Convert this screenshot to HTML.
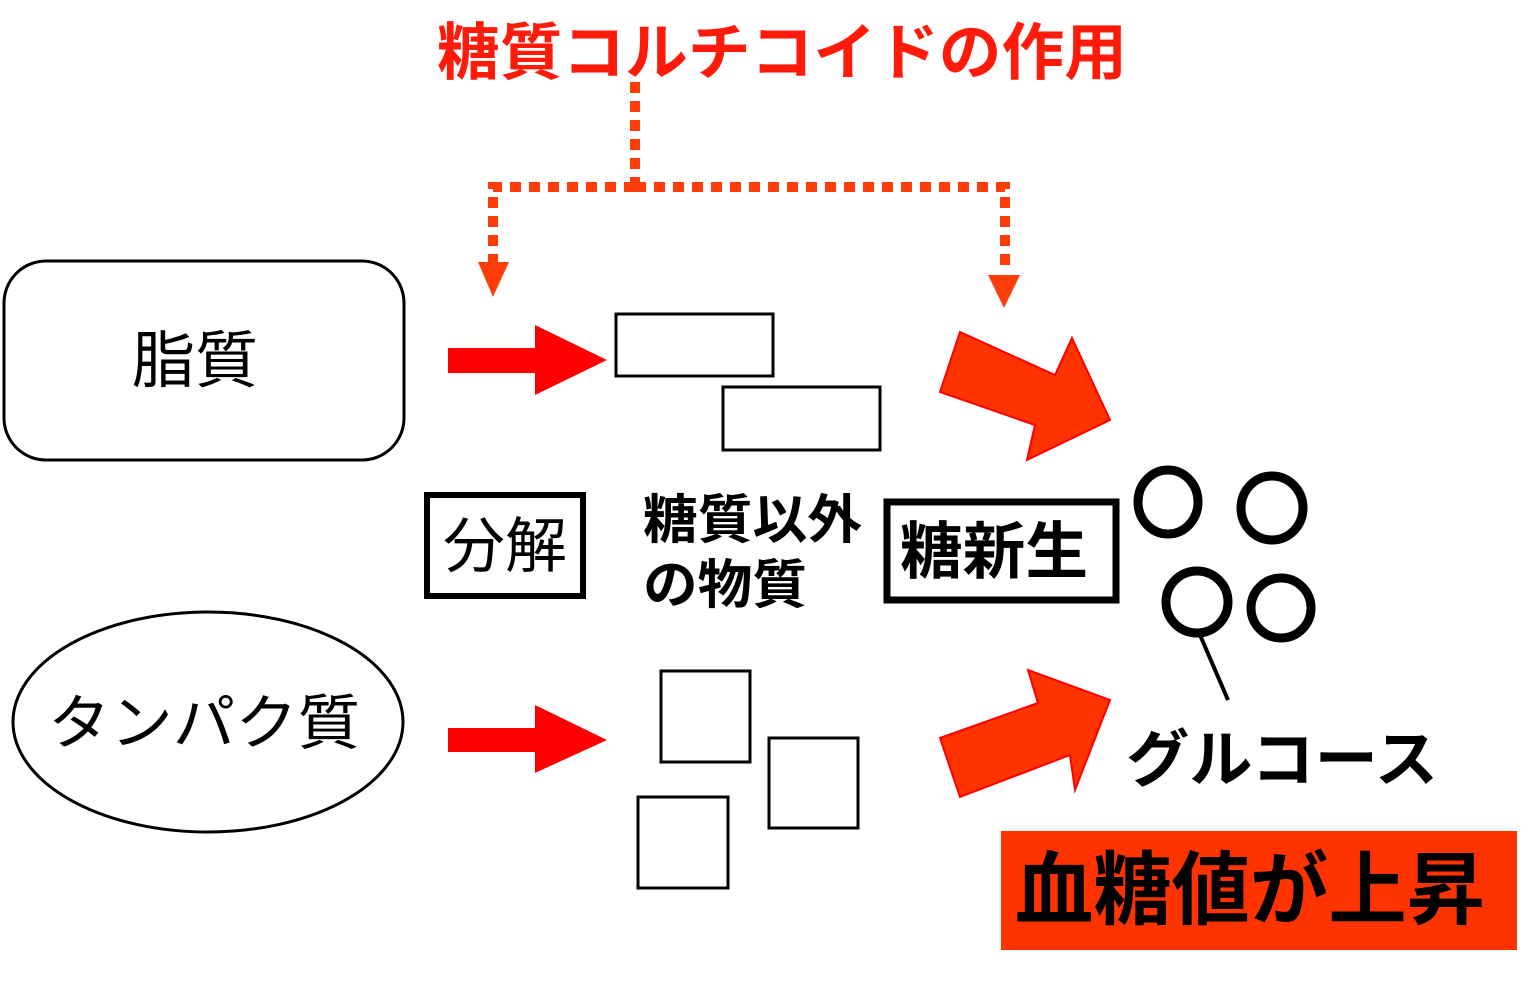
<!DOCTYPE html>
<html><head><meta charset="utf-8"><style>
html,body{margin:0;padding:0;background:#fff;}
svg{display:block;}
text{font-family:"Liberation Sans","Noto Sans CJK JP",sans-serif;}
</style></head><body>
<svg width="1536" height="992" viewBox="0 0 1536 992" xmlns="http://www.w3.org/2000/svg">
<text x="782" y="74" text-anchor="middle" font-size="62" font-weight="bold" fill="#FF1A0A" textLength="690" lengthAdjust="spacingAndGlyphs">糖質コルチコイドの作用</text>
<g stroke="#FF3D0A" stroke-width="10" fill="none" stroke-dasharray="11 8">
<path d="M635 82 V187"/>
<path d="M635 187 H1005 V272"/>
<path d="M635 187 H493 V262"/>
</g>
<polygon points="478,262 509,262 493,297" fill="#FF3D0A"/>
<polygon points="988,275 1020,275 1004,308" fill="#FF3D0A"/>
<rect x="4" y="261" width="400" height="199" rx="42" fill="none" stroke="#000" stroke-width="3"/>
<text x="195" y="382" text-anchor="middle" font-size="62" textLength="126" lengthAdjust="spacingAndGlyphs">脂質</text>
<ellipse cx="208" cy="722" rx="195" ry="110" fill="none" stroke="#000" stroke-width="3"/>
<text x="204" y="744" text-anchor="middle" font-size="60" textLength="312" lengthAdjust="spacingAndGlyphs">タンパク質</text>
<polygon points="448,348 535,348 535,325 607,360 535,395 535,373 448,373" fill="#F00"/>
<polygon points="448,728 535,728 535,705 607,740 535,773 535,752 448,752" fill="#F00"/>
<g fill="none" stroke="#000" stroke-width="3">
<rect x="616" y="314" width="157" height="62"/>
<rect x="723" y="387" width="157" height="63"/>
<rect x="661" y="671" width="89" height="91"/>
<rect x="769" y="738" width="89" height="90"/>
<rect x="638" y="797" width="90" height="91"/>
</g>
<rect x="427" y="495" width="156" height="101" fill="none" stroke="#000" stroke-width="6"/>
<text x="505" y="567" text-anchor="middle" font-size="60" textLength="124" lengthAdjust="spacingAndGlyphs">分解</text>
<text x="643" y="538" font-size="53" font-weight="bold" textLength="219" lengthAdjust="spacingAndGlyphs">糖質以外</text>
<text x="643" y="603" font-size="53" font-weight="bold" textLength="164" lengthAdjust="spacingAndGlyphs">の物質</text>
<rect x="887" y="502" width="229" height="98" fill="none" stroke="#000" stroke-width="7"/>
<text x="994" y="573" text-anchor="middle" font-size="62" font-weight="bold" textLength="188" lengthAdjust="spacingAndGlyphs">糖新生</text>
<polygon points="960,332 1055,375 1072,338 1110,420 1027,460 1035,425 940,392" fill="#FF3300" stroke="#F00" stroke-width="2"/>
<polygon points="940,738 1038,703 1028,670 1110,700 1075,790 1070,755 960,797" fill="#FF3300" stroke="#F00" stroke-width="2"/>
<g fill="none" stroke="#000" stroke-width="9">
<ellipse cx="1168" cy="502" rx="30" ry="32"/>
<ellipse cx="1272" cy="508" rx="31" ry="32"/>
<ellipse cx="1197" cy="602" rx="31" ry="31"/>
<ellipse cx="1281" cy="608" rx="30" ry="30"/>
</g>
<line x1="1200" y1="635" x2="1228" y2="700" stroke="#000" stroke-width="4"/>
<text x="1282" y="781" text-anchor="middle" font-size="62" font-weight="bold" textLength="312" lengthAdjust="spacingAndGlyphs">グルコース</text>
<rect x="1001" y="831" width="516" height="119" fill="#FF3300"/>
<text x="1250" y="918" text-anchor="middle" font-size="80" font-weight="bold" fill="#000" textLength="470" lengthAdjust="spacingAndGlyphs">血糖値が上昇</text>
</svg>
</body></html>
